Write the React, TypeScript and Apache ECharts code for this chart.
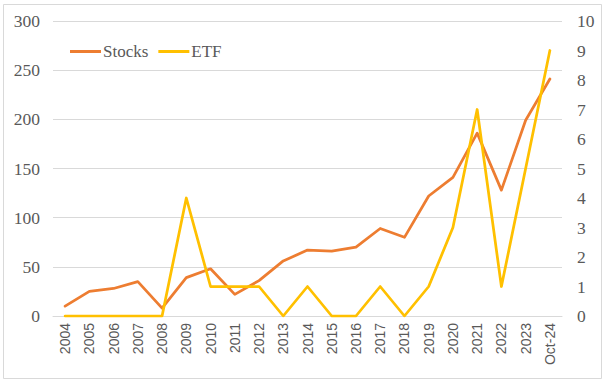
import React, { useEffect, useRef } from "react";
import * as echarts from "echarts";

const categories = ["2004","2005","2006","2007","2008","2009","2010","2011","2012","2013","2014","2015","2016","2017","2018","2019","2020","2021","2022","2023","Oct-24"];
const stocks = [10, 25, 28, 35, 8, 39, 48, 22, 36, 56, 67, 66, 70, 89, 80, 122, 141, 186, 128, 199, 241];
const etf = [0, 0, 0, 0, 0, 4, 1, 1, 1, 0, 1, 0, 0, 1, 0, 1, 3, 7, 1, 5, 9];
const leftTicks = { min: 0, max: 300, interval: 50 };
const rightTicks = { min: 0, max: 10, interval: 1 };

export default function App() {
  const ref = useRef<HTMLDivElement>(null);
  useEffect(() => {
    if (!ref.current) return;
    const chart = echarts.init(ref.current, null, { renderer: "svg" });
    const serif = "Liberation Serif";
    const sans = "Liberation Sans";
    chart.setOption({
      animation: false,
      backgroundColor: "#ffffff",
      textStyle: { fontFamily: serif },
      graphic: [
        {
          type: "rect",
          shape: { x: 3.5, y: 4.5, width: 598, height: 374 },
          style: { fill: "none", stroke: "#d9d9d9", lineWidth: 1 },
          silent: true,
        },
      ],
      grid: { left: 53, right: 46, top: 21, bottom: 67, containLabel: false },
      legend: {
        left: 65,
        top: 38,
        itemWidth: 31,
        itemHeight: 3,
        itemGap: 10,
        icon: "rect",
        textStyle: { fontFamily: serif, fontSize: 17, color: "#595959", padding: [0, 0, 0, -3] },
        data: ["Stocks", "ETF"],
      },
      xAxis: {
        type: "category",
        data: categories,
        boundaryGap: true,
        axisLine: { show: true, lineStyle: { color: "#d9d9d9", width: 1 } },
        axisTick: { show: false },
        axisLabel: {
          rotate: 90,
          interval: 0,
          margin: 7,
          fontFamily: sans,
          fontSize: 14,
          color: "#595959",
        },
      },
      yAxis: [
        {
          type: "value",
          min: leftTicks.min,
          max: leftTicks.max,
          interval: leftTicks.interval,
          axisLine: { show: false },
          axisTick: { show: false },
          splitLine: { show: true, lineStyle: { color: "#d9d9d9", width: 1 } },
          axisLabel: { fontFamily: serif, fontSize: 17.5, color: "#595959", margin: 13 },
        },
        {
          type: "value",
          min: rightTicks.min,
          max: rightTicks.max,
          interval: rightTicks.interval,
          position: "right",
          axisLine: { show: false },
          axisTick: { show: false },
          splitLine: { show: false },
          axisLabel: { fontFamily: serif, fontSize: 17.5, color: "#595959", margin: 15 },
        },
      ],
      series: [
        {
          name: "Stocks",
          type: "line",
          data: stocks,
          yAxisIndex: 0,
          symbol: "none",
          lineStyle: { color: "#ED7D31", width: 2.75, join: "round", cap: "round" },
          itemStyle: { color: "#ED7D31" },
        },
        {
          name: "ETF",
          type: "line",
          data: etf,
          yAxisIndex: 1,
          symbol: "none",
          lineStyle: { color: "#FFC000", width: 2.75, join: "round", cap: "round" },
          itemStyle: { color: "#FFC000" },
        },
      ],
    });
    return () => chart.dispose();
  }, []);
  return (
    <div
      ref={ref}
      style={{ position: "fixed", left: 0, top: 0, width: 608, height: 383 }}
    />
  );
}
